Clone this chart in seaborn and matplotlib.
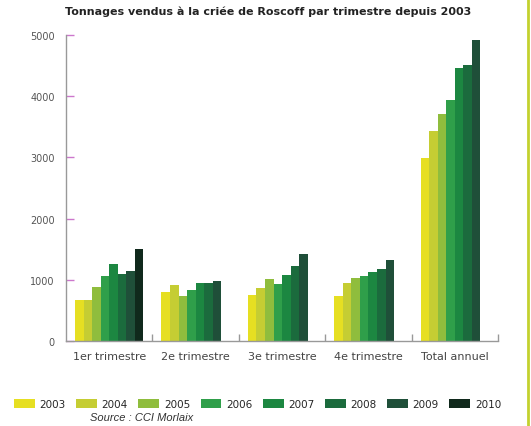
import pandas as pd
import matplotlib.pyplot as plt
import seaborn as sns
from matplotlib.lines import Line2D

# values (tonnes)
quarters = ["1er trimestre", "2e trimestre", "3e trimestre", "4e trimestre", "Total annuel"]
years = ["2003", "2004", "2005", "2006", "2007", "2008", "2009", "2010"]
t2003 = [666, 803, 755, 731, 2989]
t2004 = [666, 910, 865, 949, 3439]
t2005 = [884, 737, 1006, 1036, 3711]
t2006 = [1064, 829, 925, 1064, 3945]
t2007 = [1259, 954, 1071, 1129, 4457]
t2008 = [1090, 954, 1223, 1183, 4511]
t2009 = [1139, 982, 1424, 1330, 4923]
t2010 = [1509]  # only first quarter known

palette = ["#e6df22", "#c5cd33", "#8fbd3d", "#2f9f4a", "#1c8741",
           "#1b6b3d", "#1f4f39", "#10291c"]

rows = []
for y, vals in zip(years, [t2003, t2004, t2005, t2006, t2007, t2008, t2009, t2010]):
    for q, v in zip(quarters, vals):
        rows.append({"trimestre": q, "annee": y, "tonnes": v})
df = pd.DataFrame(rows)

sns.set_style("white")
plt.rcParams['font.family'] = ['DejaVu Sans']

fig = plt.figure(figsize=(5.31, 4.27), dpi=100)
ax = fig.add_axes([0.1243, 0.199, 0.8137, 0.7167])

sns.barplot(data=df, x="trimestre", y="tonnes", hue="annee", order=quarters,
            hue_order=years, palette=palette, width=0.79, saturation=1,
            errorbar=None, ax=ax, legend=True, linewidth=0)

ax.set_ylim(0, 5000)
ax.set_xlim(-0.5, 4.5)
ax.set_xlabel("")
ax.set_ylabel("")
ax.set_yticks([0, 1000, 2000, 3000, 4000, 5000])
ax.tick_params(axis="y", left=True, direction="in", length=6, width=1,
               color="#cc77cc", labelsize=7, labelcolor="#555555", pad=8)
ax.tick_params(axis="x", which="major", bottom=False, labelsize=8,
               labelcolor="#444444", pad=4)
ax.set_xticks([0.5, 1.5, 2.5, 3.5, 4.5], minor=True)
ax.tick_params(axis="x", which="minor", bottom=True, direction="in", length=5,
               width=1, color="#999999")
for side in ["top", "right"]:
    ax.spines[side].set_visible(False)
for side in ["left", "bottom"]:
    ax.spines[side].set_color("#999999")
    ax.spines[side].set_linewidth(1)

# legend along the bottom
handles, labels = ax.get_legend_handles_labels()
ax.get_legend().remove()
fig.legend(handles, labels, loc="center", bbox_to_anchor=(0.485, 0.052),
           ncol=8, frameon=False, fontsize=7.5, handlelength=2.0,
           handleheight=0.9, handletextpad=0.45, columnspacing=1.0)

fig.suptitle("Tonnages vendus à la criée de Roscoff par trimestre depuis 2003",
             x=0.505, y=0.985, fontsize=8, fontweight="bold", color="#222222")
fig.text(0.17, 0.015, "Source : CCI Morlaix", fontsize=8, style="italic",
         color="#333333", family=["Liberation Sans", "DejaVu Sans"])

# thin green frame line on the right edge
fig.add_artist(Line2D([0.995, 0.995], [0, 1], color="#c3d12f", lw=2,
                      transform=fig.transFigure))

fig.savefig("out.png", dpi=100)
